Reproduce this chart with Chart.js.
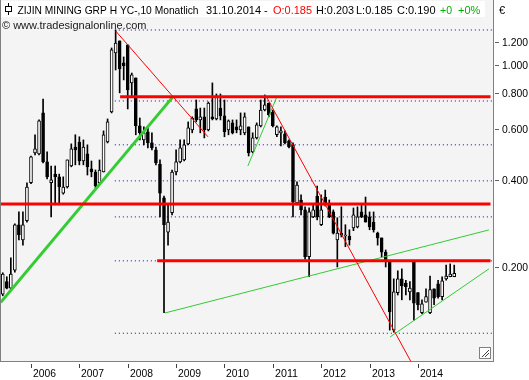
<!DOCTYPE html>
<html>
<head>
<meta charset="utf-8">
<script src="https://cdn.jsdelivr.net/npm/chart.js@4.4.1/dist/chart.umd.min.js"></script>
<style>
html, body { margin: 0; padding: 0; background: #fff; }
</style>
</head>
<body>
<canvas id="chart" width="529" height="380"></canvas>
<script>
// monthly candles, month index 0 = Jan 2006, first bar = Jun 2005
const firstMonth = -7;
const opens = [
  .161, .178, .169, .195, .280, .248, .289,
  .391, .496, .492, .682, .462, .391, .419, .410, .360, .378, .447, .520,
  .541, .465, .492, .437, .426, .391, .426, .541, .687, 1.099, 1.210, 1.016,
  1.172, .866, .901, .615, .550, .587, .537, .508, .454, .347, .264, .308,
  .426, .462, .469, .533, .596, .704, .645, .661, .596, .661, .650, .709,
  .666, .596, .630, .610, .596, .582, .610, .500, .559, .615, .698, .738,
  .687, .573, .582, .577, .546, .529, .333, .341, .315, .217, .298, .352,
  .280, .349, .328, .310, .248, .262, .256, .256, .273, .275, .310, .303,
  .298, .286, .262, .252, .225, .210, .121, .163, .182, .176, .164, .210,
  .163, .139, .151, .139, .168, .175, .158, .182, .185, .185
];
const highs = [
  .191, .185, .215, .282, .310, .310, .391,
  .484, .573, .645, .762, .500, .447, .447, .419, .410, .469, .533, .573,
  .564, .550, .529, .465, .433, .469, .591, .650, 1.144, 1.320, 1.210, 1.065,
  1.172, .937, .901, .655, .610, .606, .582, .520, .469, .352, .328, .433,
  .508, .550, .550, .635, .661, .756, .709, .709, .744, .866, .793, .793,
  .756, .645, .645, .645, .682, .682, .610, .582, .630, .756, .787, .738,
  .698, .615, .610, .591, .550, .537, .394, .355, .323, .320, .328, .381,
  .355, .369, .341, .315, .296, .323, .280, .269, .320, .323, .328, .349,
  .310, .310, .264, .252, .229, .210, .182, .194, .197, .180, .178, .210,
  .163, .154, .168, .186, .168, .180, .185, .203, .205, .203
];
const lows = [
  .159, .168, .168, .192, .248, .238, .286,
  .388, .488, .488, .458, .403, .298, .328, .328, .357, .375, .444, .451,
  .451, .451, .416, .410, .375, .388, .426, .537, .682, .960, .800, .887,
  .704, .775, .573, .550, .529, .516, .508, .451, .298, .139, .238, .303,
  .416, .458, .465, .529, .582, .635, .582, .559, .591, .645, .645, .645,
  .564, .573, .577, .582, .573, .573, .484, .496, .554, .610, .693, .661,
  .610, .564, .524, .533, .516, .298, .328, .303, .213, .185, .296, .291,
  .278, .325, .296, .260, .200, .254, .235, .238, .267, .273, .296, .286,
  .269, .264, .238, .217, .200, .121, .119, .160, .154, .160, .154, .131,
  .142, .138, .151, .138, .148, .156, .154, .180, .185, .185
];
const closes = [
  .189, .169, .189, .280, .258, .280, .378,
  .481, .512, .640, .462, .410, .400, .410, .378, .378, .469, .512, .508,
  .465, .520, .444, .426, .381, .433, .573, .635, 1.126, 1.190, .968, .992,
  .819, .923, .615, .582, .582, .537, .516, .458, .360, .280, .286, .426,
  .462, .516, .529, .606, .655, .645, .661, .596, .738, .650, .775, .666,
  .587, .640, .582, .596, .615, .661, .496, .559, .620, .698, .727, .671,
  .615, .610, .591, .537, .520, .336, .384, .315, .217, .310, .315, .298,
  .315, .333, .298, .262, .262, .258, .258, .248, .303, .298, .298, .286,
  .275, .269, .252, .225, .212, .140, .164, .182, .172, .171, .169, .150,
  .148, .149, .158, .167, .156, .158, .179, .186, .189, .190
];

// x axis: month index of each year start, y axis: price ticks
const yearTicks = [0, 12, 24, 36, 48, 60, 72, 84, 96];
const yearLabels = ['2006', '2007', '2008', '2009', '2010', '2011', '2012', '2013', '2014'];
const priceTicks = [1.2, 1.0, 0.8, 0.6, 0.4, 0.2];
const priceLabels = ['1.200', '1.000', '0.800', '0.600', '0.400', '0.200'];

// horizontal levels
const redLevels = [0.775, 0.330, 0.210];
const redStarts = [22.1, -7.5, 31.3];
const fibLevels = [1.32, 0.75, 0.529, 0.397, 0.298, 0.210, 0.118];
const fibStart = 20.8;
const lineEnd = 114;

// trend lines [month1, price1, month2, price2]
const redTrends = [[21, 1.31, 43.9, 0.564], [58.3, 0.781, 96, 0.085]];
const greenThick = [[-7.5, 0.151, 35.2, 0.775]];
const greenThin = [[53.8, 0.447, 61.0, 0.775], [33.25, 0.1387, 113.6, 0.2686], [89.1, 0.1146, 113.6, 0.197]];

const months = opens.map((v, i) => firstMonth + i);

function seg(a, color, width, dash) {
  return {
    type: 'line',
    data: [{x: a[0], y: a[1]}, {x: a[2], y: a[3]}],
    borderColor: color,
    borderWidth: width,
    borderDash: dash || [],
    pointRadius: 0,
    fill: false,
    tension: 0,
    order: dash ? 5 : 0
  };
}

const datasets = [];
redLevels.forEach((p, i) => datasets.push(seg([redStarts[i], p, lineEnd, p], '#ff0000', 3)));
redTrends.forEach(t => datasets.push(seg(t, '#ff0000', 1)));
greenThick.forEach(t => datasets.push(seg(t, '#33cc33', 3)));
greenThin.forEach(t => datasets.push(seg(t, '#33cc33', 1)));
fibLevels.forEach(p => datasets.push(seg([fibStart, p, 115, p], '#0000c8', 1, [1, 3])));

datasets.push({
  type: 'bar',
  data: months.map((m, i) => ({x: m, y: [Math.min(opens[i], closes[i]), Math.max(opens[i], closes[i])]})),
  backgroundColor: months.map((m, i) => closes[i] >= opens[i] ? '#ffffff' : '#000000'),
  borderColor: '#000000',
  borderWidth: 1,
  borderSkipped: false,
  barThickness: 3,
  minBarLength: 1,
  grouped: false,
  order: 1
});
datasets.push({
  type: 'bar',
  data: months.map((m, i) => ({x: m, y: [lows[i], highs[i]]})),
  backgroundColor: '#000000',
  borderWidth: 0,
  barThickness: 1,
  grouped: false,
  order: 2
});

const frame = {
  id: 'frame',
  beforeDraw(chart) {
    const c = chart.ctx, a = chart.chartArea;
    c.save();
    c.fillStyle = '#ffffff';
    c.fillRect(0, 0, chart.width, chart.height);
    c.fillStyle = '#f4f4f4';
    c.fillRect(a.left, a.top, a.right - a.left, a.bottom - a.top);
    c.restore();
  },
  afterDraw(chart) {
    const c = chart.ctx, a = chart.chartArea;
    const xs = chart.scales.x, ys = chart.scales.y;
    c.save();
    // border
    c.fillStyle = '#808080';
    c.fillRect(0, 0, 1, a.bottom + 1);
    c.fillRect(0, a.bottom, a.right + 1, 1);
    c.fillRect(a.right, 0, 1, a.bottom + 1);

    // resize glyph
    c.fillStyle = '#ffffff';
    c.fillRect(479, 347, 12, 12);
    c.strokeStyle = '#808080';
    c.strokeRect(479.5, 347.5, 11, 11);
    c.strokeStyle = '#404040';
    c.beginPath();
    c.moveTo(482, 357); c.lineTo(489, 350);
    c.moveTo(485, 357); c.lineTo(489, 353);
    c.stroke();

    // x axis
    c.fillStyle = '#000000';
    c.font = '11px "Liberation Sans", Arial, sans-serif';
    c.textBaseline = 'alphabetic';
    c.textAlign = 'left';
    yearTicks.forEach((m, i) => {
      const x = Math.round(xs.getPixelForValue(m));
      c.fillStyle = '#404040';
      c.fillRect(x, a.bottom + 3, 1, 4);
      c.fillStyle = '#000000';
      c.fillText(yearLabels[i], x + 2, 377, 23);
    });

    // y axis
    c.textBaseline = 'middle';
    priceTicks.forEach((p, i) => {
      const y = Math.round(ys.getPixelForValue(p));
      c.fillStyle = '#606060';
      c.fillRect(a.right + 2, y, 4, 1);
      c.fillStyle = '#000000';
      c.fillText(priceLabels[i], a.right + 9, y + 1, 26);
    });

    // header
    c.fillStyle = '#ffffff';
    c.fillRect(1, 1, 484, 16);
    c.strokeStyle = '#000000';
    c.beginPath();
    c.moveTo(8.5, 3); c.lineTo(8.5, 15);
    c.stroke();
    c.fillStyle = '#ffffff';
    c.fillRect(5.5, 6.5, 6, 5);
    c.strokeRect(5.5, 6.5, 6, 5);

    c.textBaseline = 'alphabetic';
    c.font = '11px "Liberation Sans", Arial, sans-serif';
    const parts = [
      ['ZIJIN MINING GRP H YC-,10 Monatlich', 17.5, 181, '#000000'],
      ['31.10.2014 -', 206, 63, '#000000'],
      ['O:0.185', 273, 39, '#ff0000'],
      ['H:0.203', 316, 38, '#000000'],
      ['L:0.185', 356, 38, '#000000'],
      ['C:0.190', 397, 39, '#000000'],
      ['+0', 440, 12, '#00b000'],
      ['+0%', 458, 23, '#00b000']
    ];
    parts.forEach(p => {
      c.fillStyle = p[3];
      c.fillText(p[0], p[1], 14, p[2]);
    });
    c.fillStyle = '#000000';
    c.fillText('\u20ac', 499, 14);

    c.fillStyle = '#202020';
    c.fillText('\u00a9 www.tradesignalonline.com', 2, 29, 145);
    c.restore();
  }
};

new Chart(document.getElementById('chart').getContext('2d'), {
  type: 'bar',
  data: { datasets: datasets },
  options: {
    responsive: false,
    animation: false,
    layout: { padding: { left: 1, right: 36, top: 0, bottom: 19 } },
    plugins: { legend: { display: false }, tooltip: { enabled: false } },
    scales: {
      x: { type: 'linear', display: false, min: -7.44, max: 114.62, offset: false, bounds: 'data' },
      y: { type: 'logarithmic', display: false, min: 0.0946, max: 1.676, bounds: 'data' }
    }
  },
  plugins: [frame]
});
</script>
</body>
</html>
